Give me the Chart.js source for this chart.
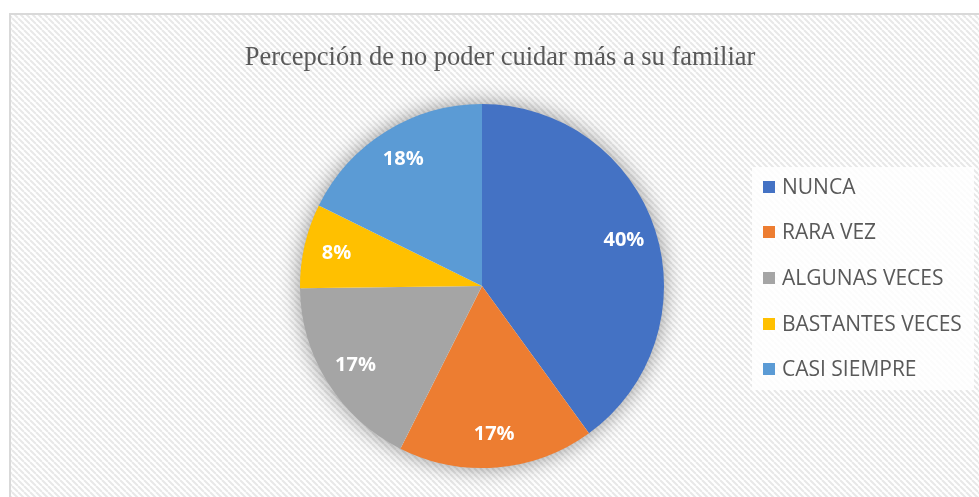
<!DOCTYPE html>
<html>
<head>
<meta charset="utf-8">
<script src="https://cdn.jsdelivr.net/npm/chart.js@4/dist/chart.umd.min.js"></script>
<style>
html,body{margin:0;padding:0;background:#fff;}
#wrap{position:absolute;left:0;top:0;width:979px;height:497px;}
</style>
</head>
<body>
<div id="wrap"><canvas id="c" width="979" height="497"></canvas></div>
<script>
const chartTitle = "Percepción de no poder cuidar más a su familiar";
const categories = ["NUNCA", "RARA VEZ", "ALGUNAS VECES", "BASTANTES VECES", "CASI SIEMPRE"];
const values = [40, 17.4, 17.4, 7.5, 17.7];
const valueLabels = ["40%", "17%", "17%", "8%", "18%"];
const colors = ["#4472C4", "#ED7D31", "#A5A5A5", "#FFC000", "#5B9BD5"];

function makePattern(ctx){
  const p = document.createElement('canvas');
  p.width = 6; p.height = 6;
  const g = p.getContext('2d');
  g.fillStyle = '#ffffff'; g.fillRect(0,0,6,6);
  g.strokeStyle = '#e8e8e8'; g.lineWidth = 2;
  for (let k=-6;k<=12;k+=6){
    g.beginPath(); g.moveTo(k,0); g.lineTo(k+6,6); g.stroke();
  }
  return ctx.createPattern(p,'repeat');
}

const bgPlugin = {
  id:'bg',
  beforeDraw(chart){
    const ctx = chart.ctx;
    ctx.save();
    ctx.fillStyle = '#ffffff';
    ctx.fillRect(0,0,chart.width,chart.height);
    ctx.fillStyle = makePattern(ctx);
    ctx.fillRect(11,15,chart.width-11,chart.height-15);
    ctx.strokeStyle = '#d9d9d9'; ctx.lineWidth = 2;
    ctx.strokeRect(10,14,chart.width+10,chart.height+10);
    // title
    ctx.fillStyle = '#595959';
    ctx.font = '26.5px "Liberation Serif", "Times New Roman", serif';
    ctx.textAlign = 'center'; ctx.textBaseline = 'alphabetic';
    ctx.fillText(chartTitle, 500, 65);
    // legend box
    ctx.fillStyle = 'rgba(255,255,255,0.85)';
    ctx.fillRect(752,167,222,223);
    const meta = chart.getDatasetMeta(0);
    ctx.font = '21px "Open Sans", "Liberation Sans", sans-serif';
    ctx.textAlign = 'left'; ctx.textBaseline = 'middle';
    const ys = [187, 232, 278, 324, 369];
    categories.forEach((lab,i)=>{
      ctx.fillStyle = colors[i];
      ctx.fillRect(763, ys[i]-6, 12, 12);
      ctx.fillStyle = '#595959';
      ctx.fillText(lab, 782, ys[i]+1);
    });
    // pie shadow
    const arc = meta.data[0];
    if (arc){
      ctx.save();
      ctx.shadowColor = 'rgba(0,0,0,0.45)';
      ctx.shadowBlur = 22;
      ctx.fillStyle = '#ffffff';
      ctx.beginPath(); ctx.arc(arc.x, arc.y, arc.outerRadius-1, 0, Math.PI*2); ctx.fill();
      ctx.restore();
    }
    ctx.restore();
  }
};

const labelPlugin = {
  id:'lbl',
  afterDatasetsDraw(chart){
    const ctx = chart.ctx;
    const meta = chart.getDatasetMeta(0);
    ctx.save();
    ctx.fillStyle = '#ffffff';
    ctx.font = 'bold 20px "Open Sans", "Liberation Sans", sans-serif';
    ctx.textAlign = 'center'; ctx.textBaseline = 'middle';
    meta.data.forEach((a,i)=>{
      const mid = (a.startAngle + a.endAngle)/2;
      const r = a.outerRadius*0.82;
      ctx.fillText(valueLabels[i], a.x + Math.cos(mid)*r, a.y + Math.sin(mid)*r);
    });
    ctx.restore();
  }
};

new Chart(document.getElementById('c'), {
  type:'pie',
  data:{ labels: categories, datasets:[{ data: values, backgroundColor: colors, borderWidth: 0 }] },
  options:{
    responsive:false, animation:false, devicePixelRatio:1,
    layout:{ padding:{ left:300, right:315, top:104, bottom:29 } },
    plugins:{ legend:{display:false}, tooltip:{enabled:false}, title:{display:false} }
  },
  plugins:[bgPlugin, labelPlugin]
});
</script>
</body>
</html>
